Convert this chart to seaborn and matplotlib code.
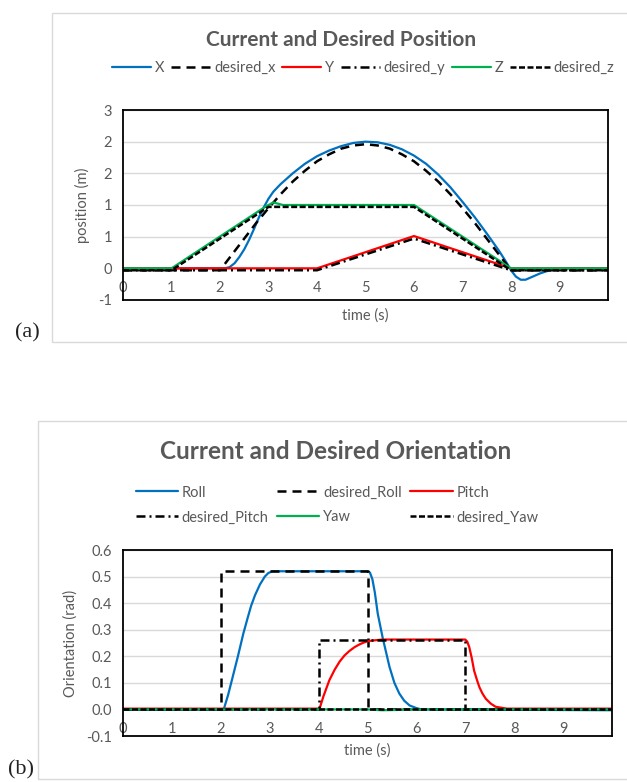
import matplotlib
matplotlib.use("Agg")
import matplotlib.pyplot as plt
import seaborn as sns
from matplotlib.patches import Rectangle
from matplotlib.lines import Line2D

# --- data (panel a: position) ---
t_x = [0, 2, 2.1, 2.2, 2.3, 2.4, 2.5, 2.6, 2.7, 2.8, 2.9, 3.0, 3.1, 3.25, 3.5, 3.75, 4, 4.25, 4.5, 4.75,
       5, 5.25, 5.5, 5.75, 6, 6.25, 6.5, 6.75, 7, 7.25, 7.5, 7.75, 7.9, 8, 8.1, 8.2, 8.3, 8.45, 8.6, 8.8, 9, 9.2, 10]
x_cur = [0, 0, 0, 0.02, 0.08, 0.18, 0.3, 0.45, 0.62, 0.8, 0.96, 1.1, 1.21, 1.33, 1.5, 1.65, 1.77, 1.86, 1.93, 1.98,
         2.0, 1.99, 1.95, 1.88, 1.78, 1.65, 1.48, 1.28, 1.05, 0.81, 0.55, 0.28, 0.1, -0.03, -0.13, -0.18, -0.18, -0.13, -0.08, -0.03, -0.01, 0, 0]
t_dx = [0, 2, 2.25, 2.5, 2.75, 3, 3.25, 3.5, 3.75, 4, 4.25, 4.5, 4.75, 5, 5.25, 5.5, 5.75, 6, 6.25, 6.5,
        6.75, 7, 7.25, 7.5, 7.75, 8, 10]
x_des = [-0.03, -0.03, 0.22, 0.47, 0.72, 0.95, 1.17, 1.37, 1.54, 1.69, 1.8, 1.89, 1.94, 1.96, 1.94, 1.89,
         1.8, 1.69, 1.54, 1.37, 1.17, 0.95, 0.72, 0.47, 0.22, -0.03, -0.03]
t_y = [0, 4, 6, 8, 10]
y_cur = [0, 0, 0.51, 0, 0]
y_des = [-0.03, -0.03, 0.47, -0.03, -0.03]
t_z = [0, 1, 2.95, 3.1, 3.3, 6, 8, 10]
z_cur = [0, 0, 0.98, 1.04, 1.0, 1.0, 0, 0]
t_dz = [0, 1, 3, 6, 8, 10]
z_des = [-0.03, -0.03, 0.97, 0.97, -0.03, -0.03]
pos_ticks = [-0.5, 0, 0.5, 1, 1.5, 2, 2.5]
pos_tick_labels = ["-1", "0", "1", "1", "2", "2", "3"]

# --- panel b: orientation ---
t_roll = [0, 2.06, 2.15, 2.24, 2.35, 2.46, 2.55, 2.62, 2.7, 2.8, 2.9, 2.97, 3.05, 5.0, 5.05, 5.1, 5.15, 5.21,
          5.31, 5.45, 5.55, 5.65, 5.75, 5.86, 6.0, 6.1, 10]
roll = [0, 0, 0.055, 0.12, 0.2, 0.285, 0.345, 0.39, 0.43, 0.47, 0.5, 0.513, 0.52, 0.52, 0.515, 0.49, 0.44, 0.36,
        0.27, 0.16, 0.1, 0.06, 0.033, 0.015, 0.005, 0, -0.003]
t_droll = [0, 2, 2, 5, 5, 10]
roll_des = [0, 0, 0.52, 0.52, 0, 0]
t_pitch = [0, 4.02, 4.1, 4.22, 4.33, 4.43, 4.53, 4.63, 4.74, 4.84, 4.94, 5.04, 5.3, 7.0, 7.04, 7.08, 7.13, 7.18,
           7.24, 7.29, 7.35, 7.42, 7.52, 7.62, 7.85, 10]
pitch = [0.003, 0.003, 0.05, 0.11, 0.15, 0.18, 0.203, 0.22, 0.235, 0.245, 0.253, 0.258, 0.263, 0.263, 0.255,
         0.235, 0.195, 0.146, 0.11, 0.083, 0.06, 0.04, 0.022, 0.01, 0.003, 0.003]
t_dpitch = [0, 4, 4, 7, 7, 10]
pitch_des = [0, 0, 0.262, 0.262, 0, 0]
t_yaw = [0, 5, 5.3, 5.6, 6, 10]
yaw = [0, 0, -0.003, -0.002, 0, 0]
t_dyaw = [0, 10]
yaw_des = [0, 0]
ori_ticks = [-0.1, 0, 0.1, 0.2, 0.3, 0.4, 0.5, 0.6]
ori_tick_labels = ["-0.1", "0.0", "0.1", "0.2", "0.3", "0.4", "0.5", "0.6"]
time_ticks = [0, 1, 2, 3, 4, 5, 6, 7, 8, 9]

BLUE, RED, GREEN = "#0070C0", "#FF0000", "#00B050"
GRAY = "#595959"
LONG = (0, (3.6, 2.4))
DASHDOT = (0, (3.6, 1.6, 0.8, 1.6))
SHORT = (0, (2.4, 1.0))
FS = 10.5

sns.set_theme(style="white")
plt.rcParams["font.family"] = ["Lato", "DejaVu Sans"]

W, H = 627, 782
fig = plt.figure(figsize=(W / 100, H / 100), dpi=100)


def px(x0, y0, x1, y1):
    return [x0 / W, 1 - y1 / H, (x1 - x0) / W, (y1 - y0) / H]


# chart frames
fig.patches.append(Rectangle((52 / W, 1 - 342 / H), 600 / W, 329 / H, transform=fig.transFigure,
                             fill=False, edgecolor="#D9D9D9", lw=1))
fig.patches.append(Rectangle((38 / W, 1 - 779 / H), 620 / W, 358 / H, transform=fig.transFigure,
                             fill=False, edgecolor="#D9D9D9", lw=1))


def style_axes(ax, ylim, yticks, ylabels, pad):
    ax.set_xlim(0, 10)
    ax.set_ylim(*ylim)
    ax.set_yticks(yticks)
    ax.set_yticklabels(ylabels)
    ax.set_xticks(time_ticks)
    ax.set_xticklabels([str(t) for t in time_ticks])
    ax.yaxis.grid(True, color="#D9D9D9", lw=1)
    ax.set_axisbelow(True)
    for s in ax.spines.values():
        s.set_visible(True)
        s.set_color("black")
        s.set_linewidth(1.3)
    ax.tick_params(axis="both", length=0, colors=GRAY, labelsize=FS)
    ax.tick_params(axis="x", pad=pad)
    ax.tick_params(axis="y", pad=8)


def draw(ax, t, v, color, ls="-", lw=1.6):
    sns.lineplot(x=t, y=v, ax=ax, color=color, linestyle=ls, lw=lw,
                 estimator=None, sort=False, legend=False)


# ---------- panel (a) ----------
ax1 = fig.add_axes(px(123, 110, 608, 300))
draw(ax1, t_x, x_cur, BLUE)
draw(ax1, t_dx, x_des, "black", LONG, 1.8)
draw(ax1, t_y, y_cur, RED)
draw(ax1, t_y, y_des, "black", DASHDOT, 1.8)
draw(ax1, t_z, z_cur, GREEN)
draw(ax1, t_dz, z_des, "black", SHORT, 1.8)
style_axes(ax1, (-0.5, 2.5), pos_ticks, pos_tick_labels, -14)
ax1.set_xlabel("time (s)", color=GRAY, fontsize=FS, labelpad=6)
ax1.set_ylabel("position (m)", color=GRAY, fontsize=FS, labelpad=6)

fig.text(341 / W, 1 - 40 / H, "Current and Desired Position", ha="center", va="center",
         fontsize=15, fontweight="bold", color=GRAY)

h_a = [Line2D([], [], color=BLUE, lw=1.6), Line2D([], [], color="black", lw=1.8, ls=LONG),
       Line2D([], [], color=RED, lw=1.6), Line2D([], [], color="black", lw=1.8, ls=DASHDOT),
       Line2D([], [], color=GREEN, lw=1.6), Line2D([], [], color="black", lw=1.8, ls=SHORT)]
lab_a = ["X", "desired_x", "Y", "desired_y", "Z", "desired_z"]
fig.legend(h_a, lab_a, loc="center", bbox_to_anchor=(363 / W, 1 - 68 / H), ncol=6,
           frameon=False, fontsize=FS, handlelength=2.7, handletextpad=0.25,
           columnspacing=0.45, labelcolor=GRAY)

fig.text(27 / W, 1 - 333 / H, "(a)", ha="center", va="center", fontsize=16,
         family="Liberation Serif", color="#222222")

# ---------- panel (b) ----------
ax2 = fig.add_axes(px(123, 550, 612, 736))
draw(ax2, t_roll, roll, BLUE)
draw(ax2, t_droll, roll_des, "black", LONG, 1.8)
draw(ax2, t_pitch, pitch, RED)
draw(ax2, t_dpitch, pitch_des, "black", DASHDOT, 1.8)
draw(ax2, t_yaw, yaw, GREEN)
draw(ax2, t_dyaw, yaw_des, "black", SHORT, 1.8)
style_axes(ax2, (-0.1, 0.6), ori_ticks, ori_tick_labels, -10)
ax2.set_xlabel("time (s)", color=GRAY, fontsize=FS, labelpad=5)
ax2.set_ylabel("Orientation (rad)", color=GRAY, fontsize=FS, labelpad=6)

fig.text(336 / W, 1 - 452 / H, "Current and Desired Orientation", ha="center", va="center",
         fontsize=17.5, fontweight="bold", color=GRAY)

h_b = [Line2D([], [], color=BLUE, lw=1.6), Line2D([], [], color="black", lw=1.8, ls=DASHDOT),
       Line2D([], [], color="black", lw=1.8, ls=LONG), Line2D([], [], color=GREEN, lw=1.6),
       Line2D([], [], color=RED, lw=1.6), Line2D([], [], color="black", lw=1.8, ls=SHORT)]
lab_b = ["Roll", "desired_Pitch", "desired_Roll", "Yaw", "Pitch", "desired_Yaw"]
fig.legend(h_b, lab_b, loc="center", bbox_to_anchor=(337 / W, 1 - 505 / H), ncol=3,
           frameon=False, fontsize=FS, handlelength=2.9, handletextpad=0.25,
           columnspacing=0.6, labelcolor=GRAY, labelspacing=0.75)

fig.text(21 / W, 1 - 770 / H, "(b)", ha="center", va="center", fontsize=16,
         family="Liberation Serif", color="#222222")

fig.savefig("out.png", dpi=100)
